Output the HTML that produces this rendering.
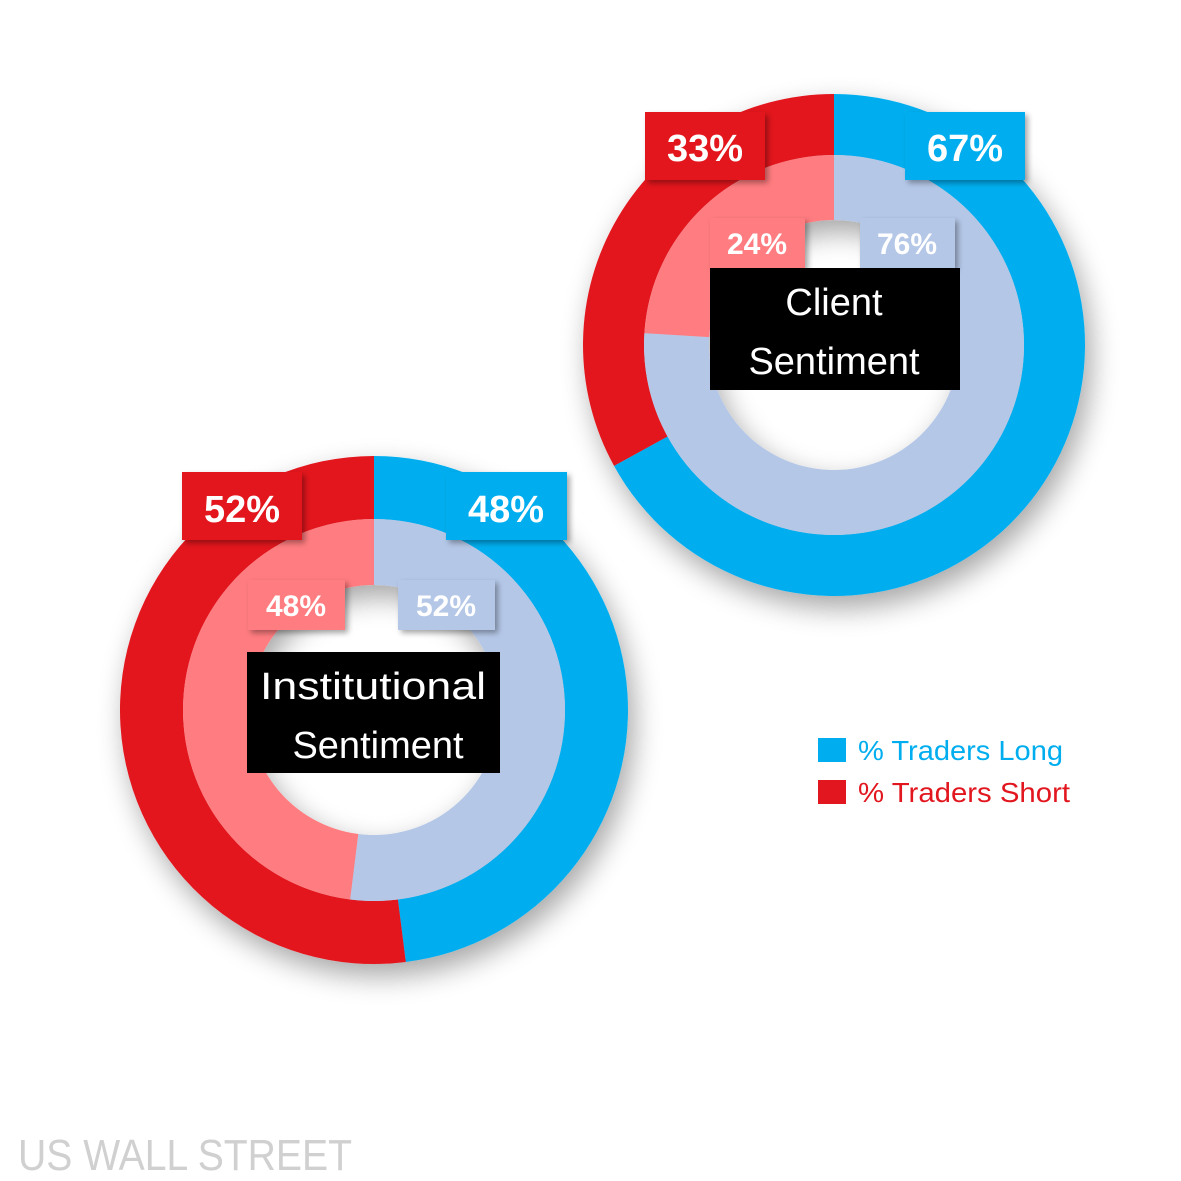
<!DOCTYPE html>
<html><head><meta charset="utf-8"><style>
html,body{margin:0;padding:0;background:#fff;}
svg{display:block;}
text{font-family:"Liberation Sans",sans-serif;}
</style></head><body>
<svg width="1181" height="1181" viewBox="0 0 1181 1181" xmlns="http://www.w3.org/2000/svg">
<defs>
<filter id="sh" x="-30%" y="-30%" width="160%" height="160%">
<feGaussianBlur in="SourceAlpha" stdDeviation="14"/>
<feOffset dx="6" dy="12" result="b"/>
<feComponentTransfer><feFuncA type="linear" slope="0.35"/></feComponentTransfer>
<feMerge><feMergeNode/><feMergeNode in="SourceGraphic"/></feMerge>
</filter>
<filter id="bs" x="-20%" y="-20%" width="140%" height="140%">
<feGaussianBlur in="SourceAlpha" stdDeviation="3"/>
<feOffset dx="3" dy="3"/>
<feComponentTransfer><feFuncA type="linear" slope="0.35"/></feComponentTransfer>
<feMerge><feMergeNode/><feMergeNode in="SourceGraphic"/></feMerge>
</filter>
</defs>

<!-- Client donut -->
<g filter="url(#sh)">
<path d="M834,94 A251,251 0 1 1 614.05,465.9 L667.5,436.5 A190,190 0 1 0 834,155 Z" fill="#00AEEF"/>
<path d="M614.05,465.9 A251,251 0 0 1 834,94 L834,155 A190,190 0 0 0 667.5,436.5 Z" fill="#E2161E"/>
<path d="M834,155 A190,190 0 1 1 644.4,333.1 L709.25,337.15 A125,125 0 1 0 834,220 Z" fill="#B4C7E7"/>
<path d="M644.4,333.1 A190,190 0 0 1 834,155 L834,220 A125,125 0 0 0 709.25,337.15 Z" fill="#FF7C80"/>
</g>

<!-- Institutional donut -->
<g filter="url(#sh)">
<path d="M374,456 A254,254 0 0 1 405.8,962 L397.9,899.5 A191,191 0 0 0 374,519 Z" fill="#00AEEF"/>
<path d="M405.8,962 A254,254 0 1 1 374,456 L374,519 A191,191 0 1 0 397.9,899.5 Z" fill="#E2161E"/>
<path d="M374,519 A191,191 0 1 1 350.1,899.5 L358.3,834 A125,125 0 1 0 374,585 Z" fill="#B4C7E7"/>
<path d="M350.1,899.5 A191,191 0 0 1 374,519 L374,585 A125,125 0 0 0 358.3,834 Z" fill="#FF7C80"/>
</g>

<!-- Client labels -->
<g filter="url(#bs)">
<rect x="645" y="112" width="120" height="68" fill="#E2161E"/>
<rect x="905" y="112" width="120" height="68" fill="#00AEEF"/>
<rect x="710" y="218" width="95" height="50" fill="#FF7C80"/>
<rect x="860" y="218" width="95" height="50" fill="#B4C7E7"/>
</g>
<text x="705" y="161" fill="#fff" font-size="38" font-weight="bold" text-anchor="middle">33%</text>
<text x="965" y="161" fill="#fff" font-size="38" font-weight="bold" text-anchor="middle">67%</text>
<text x="757" y="254" fill="#fff" font-size="30" font-weight="bold" text-anchor="middle">24%</text>
<text x="907" y="254" fill="#fff" font-size="30" font-weight="bold" text-anchor="middle">76%</text>
<rect x="710" y="268" width="250" height="122" fill="#000"/>
<text x="834" y="315" fill="#fff" font-size="38" text-anchor="middle">Client</text>
<text x="834" y="374" fill="#fff" font-size="38" text-anchor="middle">Sentiment</text>

<!-- Institutional labels -->
<g filter="url(#bs)">
<rect x="182" y="472" width="120" height="68" fill="#E2161E"/>
<rect x="446" y="472" width="121" height="68" fill="#00AEEF"/>
<rect x="248" y="580" width="97" height="50" fill="#FF7C80"/>
<rect x="398" y="580" width="97" height="50" fill="#B4C7E7"/>
</g>
<text x="242" y="522" fill="#fff" font-size="38" font-weight="bold" text-anchor="middle">52%</text>
<text x="506" y="522" fill="#fff" font-size="38" font-weight="bold" text-anchor="middle">48%</text>
<text x="296" y="616" fill="#fff" font-size="30" font-weight="bold" text-anchor="middle">48%</text>
<text x="446" y="616" fill="#fff" font-size="30" font-weight="bold" text-anchor="middle">52%</text>
<rect x="247" y="652" width="253" height="121" fill="#000"/>
<text x="373" y="699" fill="#fff" font-size="38" text-anchor="middle" textLength="226" lengthAdjust="spacingAndGlyphs">Institutional</text>
<text x="378" y="758" fill="#fff" font-size="38" text-anchor="middle">Sentiment</text>

<!-- Legend -->
<rect x="818" y="738" width="28" height="24" fill="#00AEEF"/>
<text x="858" y="760" fill="#00AEEF" font-size="28" textLength="205" lengthAdjust="spacingAndGlyphs">% Traders Long</text>
<rect x="818" y="780" width="28" height="24" fill="#E2161E"/>
<text x="858" y="802" fill="#E2161E" font-size="28" textLength="212" lengthAdjust="spacingAndGlyphs">% Traders Short</text>

<text x="18" y="1170" fill="#D0D0D0" font-size="44" textLength="334" lengthAdjust="spacingAndGlyphs">US WALL STREET</text>
</svg>
</body></html>
